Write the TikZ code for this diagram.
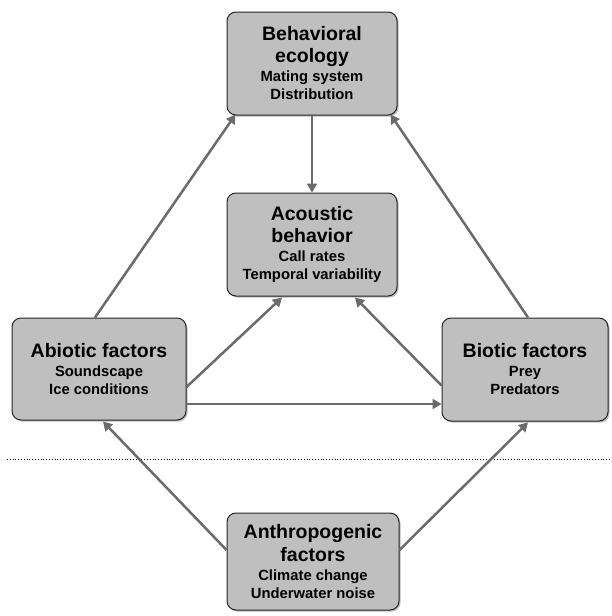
\documentclass[tikz,border=0pt]{standalone}
\usepackage{fontspec}
\setmainfont{Liberation Sans}
\usetikzlibrary{arrows.meta,calc,shadows}

\tikzset{
  factor/.style={draw=black!85, line width=1pt, fill=gray!50, rounded corners=9pt,
    align=center, inner sep=0pt, font=\bfseries\fontsize{14.8}{18}\selectfont,
    drop shadow={shadow xshift=1.5pt, shadow yshift=-1.5pt, opacity=0.55}},
  link/.style={draw=black!58, line width=2.5pt,
    -{Triangle[length=9pt,width=10pt]}},
}
\newcommand{\boxtitle}[1]{{\fontsize{19.5}{22}\selectfont #1}}

\begin{document}
\begin{tikzpicture}[x=1pt, y=-1pt]
    \useasboundingbox (0,0) rectangle (612,616);
    % the five boxes
    \node[factor, minimum width=170pt, minimum height=103pt] (beh) at (312,63.5)
      {\boxtitle{Behavioral}\\[4pt]\boxtitle{ecology}\\[1pt]Mating system\\Distribution};
    \node[factor, minimum width=170pt, minimum height=103pt] (aco) at (312,244.5)
      {\boxtitle{Acoustic}\\[4pt]\boxtitle{behavior}\\[1pt]Call rates\\Temporal variability};
    \node[factor, minimum width=174pt, minimum height=102pt] (abio) at (99,369)
      {\boxtitle{Abiotic factors}\\[1pt]Soundscape\\Ice conditions};
    \node[factor, minimum width=166pt, minimum height=103pt] (bio) at (525,369.5)
      {\boxtitle{Biotic factors}\\[1pt]Prey\\Predators};
    \node[factor, minimum width=172pt, minimum height=97pt] (anth) at (313,561.5)
      {\boxtitle{Anthropogenic}\\[3pt]\boxtitle{factors}\\[1pt]Climate change\\Underwater noise};

    % dotted separator
    \draw[dotted, line width=0.8pt] (7,459) -- (612,459);

    % arrows
    \draw[link] (beh.south) -- (aco.north);
    \draw[link] ($(abio.north)+(-4,0)$) -- ($(beh.south west)+(9,-1)$);
    \draw[link] ($(bio.north)+(3,0)$) -- ($(beh.south east)+(-7,-1)$);
    \draw[link] ($(abio.east)+(0,18)$) -- ($(aco.south)+(-30,1)$);
    \draw[link] ($(bio.west)+(0,16)$) -- ($(aco.south)+(43,1)$);
    \draw[link] ($(abio.east)+(0,35)$) -- ($(bio.west)+(0,34.5)$);
    \draw[link] ($(anth.west)+(0,-11.5)$) -- ($(abio.south)+(4,1)$);
    \draw[link] ($(anth.east)+(0,-11.5)$) -- ($(bio.south)+(3,1)$);
\end{tikzpicture}
\end{document}
